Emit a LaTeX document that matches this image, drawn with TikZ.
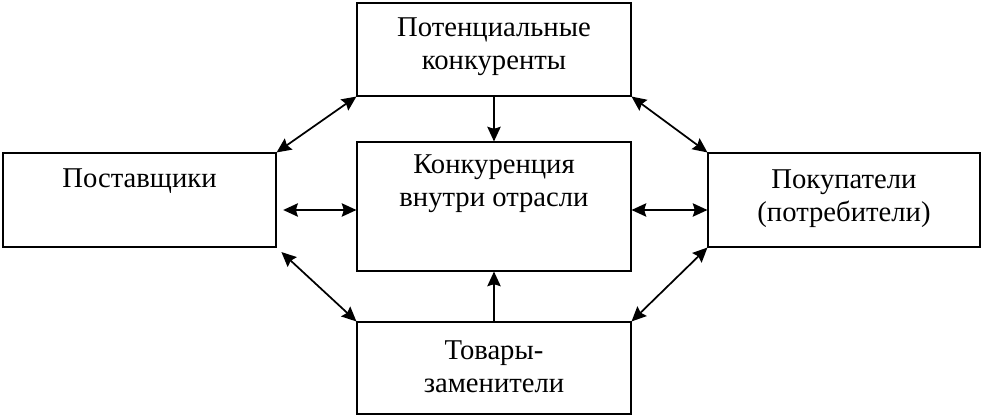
\documentclass[tikz,border=0pt]{standalone}
\usepackage{fontspec}
\setmainfont{Liberation Serif}
\usetikzlibrary{arrows.meta}

\begin{document}
\begin{tikzpicture}[x=0.75pt, y=-0.75pt,
    box/.style={draw, line width=0.8pt, inner sep=0pt},
    txt/.style={align=center, font=\fontsize{21.5}{24.75}\selectfont, inner sep=0pt},
    arr/.style={line width=1.3pt, -{Stealth[length=11pt, width=10pt, inset=1.5pt]}},
    darr/.style={line width=1.3pt, {Stealth[length=11pt, width=10pt, inset=1.5pt]}-{Stealth[length=11pt, width=10pt, inset=1.5pt]}}]
    \useasboundingbox (0,0) rectangle (983,417);

    % boxes
    \node[box, minimum width=205.5pt, minimum height=69.75pt] (pot) at (494,49.5) {};
    \node[box, minimum width=204.75pt, minimum height=70.5pt] (post) at (139.5,200) {};
    \node[box, minimum width=205.5pt, minimum height=96.75pt] (konk) at (494,206.5) {};
    \node[box, minimum width=204pt, minimum height=70.5pt] (pokup) at (844,200) {};
    \node[box, minimum width=205.5pt, minimum height=69pt] (tov) at (494,368) {};

    % labels
    \node[txt] (potT) at (494,47) {Потенциальные\\конкуренты};
    \node[txt] (postT) at (139.5,181) {Поставщики};
    \node[txt] (konkT) at (494,184) {Конкуренция\\внутри отрасли};
    \node[txt] (pokupT) at (844,199) {Покупатели\\(потребители)};
    \node[txt] (tovT) at (494,367) {Товары-\\заменители};

    % arrows into the centre
    \draw[arr] (pot.south) -- (konk.north);
    \draw[arr] (tov.north) -- (konk.south);
    \draw[darr, shorten <=5pt] (post.east |- 0,210) -- (konk.west |- 0,210);
    \draw[darr] (konk.east |- 0,210) -- (pokup.west |- 0,210);

    % diagonals
    \draw[darr] (post.north east) -- (pot.south west);
    \draw[darr] (pot.south east) -- (pokup.north west);
    \draw[darr, shorten <=5pt] (post.south east) -- (tov.north west);
    \draw[darr] (tov.north east) -- (pokup.south west);
\end{tikzpicture}
\end{document}
